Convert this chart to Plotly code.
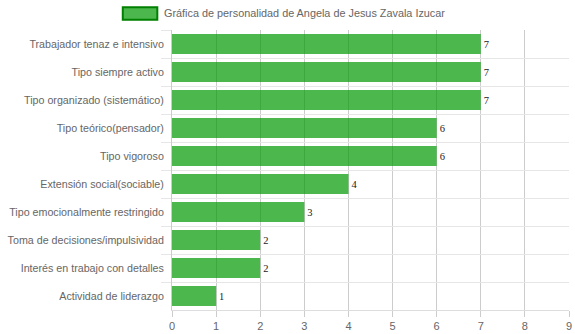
import plotly.graph_objects as go

# Personality traits (top to bottom) and their scores
traits = [
    "Trabajador tenaz e intensivo",
    "Tipo siempre activo",
    "Tipo organizado (sistemático)",
    "Tipo teórico(pensador)",
    "Tipo vigoroso",
    "Extensión social(sociable)",
    "Tipo emocionalmente restringido",
    "Toma de decisiones/impulsividad",
    "Interés en trabajo con detalles",
    "Actividad de liderazgo",
]
scores = [7, 7, 7, 6, 6, 4, 3, 2, 2, 1]
x_ticks = [0, 1, 2, 3, 4, 5, 6, 7, 8, 9]
series_name = "Gráfica de personalidad de Angela de Jesus Zavala Izucar"

BAR_FILL = "rgba(0,153,0,0.7)"
BAR_EDGE = "rgb(0,128,0)"
TEXT_GRAY = "#666666"
FONT = "Arial, Liberation Sans, sans-serif"
FS = 10.7

fig = go.Figure()
fig.add_trace(go.Bar(
    x=scores,
    y=traits,
    orientation="h",
    name=series_name,
    marker=dict(color=BAR_FILL, line=dict(width=0)),
    width=0.72,
    text=[str(v) for v in scores],
    textposition="outside",
    textfont=dict(family="Liberation Serif, DejaVu Serif, serif", size=10.5, color="#222222"),
    cliponaxis=False,
    showlegend=False,
    hoverinfo="x+y",
))

fig.update_layout(
    width=575,
    height=334,
    margin=dict(l=172, r=6, t=30, b=24, autoexpand=False),
    paper_bgcolor="white",
    plot_bgcolor="white",
    font=dict(family=FONT, size=FS, color=TEXT_GRAY),
    showlegend=False,
    xaxis=dict(
        range=[0, 9],
        tickmode="array",
        tickvals=x_ticks,
        ticktext=[str(t) for t in x_ticks],
        showgrid=True,
        gridcolor="#cccccc",
        gridwidth=1,
        zeroline=False,
        showline=True,
        linecolor="#dddddd",
        ticks="outside",
        ticklen=6,
        tickcolor="#cccccc",
        tickfont=dict(size=11, color=TEXT_GRAY),
        automargin=False,
        fixedrange=True,
    ),
    yaxis=dict(
        autorange="reversed",
        tickson="boundaries",
        showgrid=True,
        gridcolor="#e6e6e6",
        gridwidth=1,
        zeroline=False,
        showline=True,
        linecolor="#cccccc",
        ticks="outside",
        ticklen=10,
        tickcolor="#e6e6e6",
        ticklabelstandoff=5,
        tickfont=dict(size=FS, color=TEXT_GRAY),
        automargin=False,
        fixedrange=True,
    ),
)

# Legend box drawn as a wide swatch with the series label beside it
fig.add_shape(
    type="rect",
    xref="paper", yref="paper",
    x0=-0.124, x1=-0.037, y0=1.037, y1=1.081,
    fillcolor=BAR_FILL,
    line=dict(color=BAR_EDGE, width=2),
)
fig.add_annotation(
    xref="paper", yref="paper",
    x=-0.025, y=1.059,
    xanchor="left", yanchor="middle",
    text=series_name,
    showarrow=False,
    font=dict(family=FONT, size=10.85, color=TEXT_GRAY),
)

fig.write_html("out.html")
